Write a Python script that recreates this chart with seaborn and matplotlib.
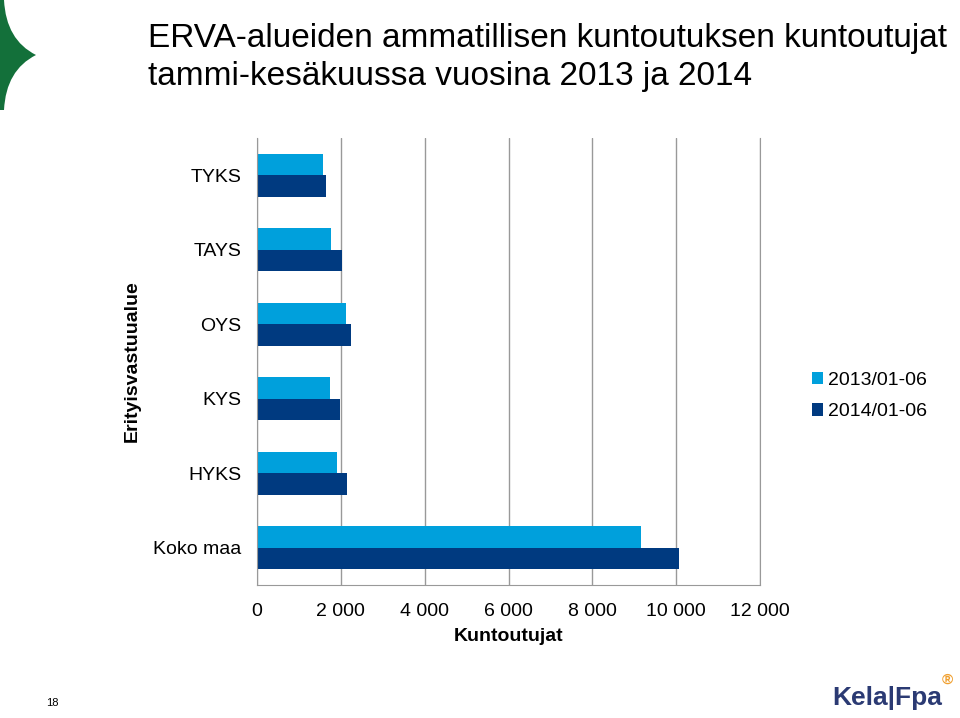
import pandas as pd
import numpy as np
import matplotlib
matplotlib.use("Agg")
import matplotlib.pyplot as plt
from matplotlib.patches import PathPatch, Patch
from matplotlib.path import Path
import seaborn as sns

# DATA
areas = ["TYKS", "TAYS", "OYS", "KYS", "HYKS", "Koko maa"]
periods = ["2013/01-06", "2014/01-06"]
v2013 = [1580, 1775, 2115, 1730, 1910, 9165]
v2014 = [1645, 2020, 2245, 1970, 2155, 10075]
xticks = [0, 2000, 4000, 6000, 8000, 10000, 12000]
xtick_labels = ["0", "2 000", "4 000", "6 000", "8 000", "10 000", "12 000"]

data = pd.DataFrame({
    "alue": areas * 2,
    "jakso": [periods[0]] * len(areas) + [periods[1]] * len(areas),
    "kuntoutujat": v2013 + v2014,
})

sns.set_style("white")
plt.rcParams["font.family"] = ["Liberation Sans", "DejaVu Sans"]
plt.rcParams["text.color"] = "black"
plt.rcParams["axes.labelcolor"] = "black"
plt.rcParams["xtick.color"] = "black"
plt.rcParams["ytick.color"] = "black"

colors = ["#00A0DC", "#003A80"]

fig = plt.figure(figsize=(9.6, 7.18), dpi=100)
ax = fig.add_axes([257 / 960, 1 - 585 / 718, 503 / 960, 447 / 718])

sns.barplot(data=data, y="alue", x="kuntoutujat", hue="jakso", order=areas,
            hue_order=periods, palette=colors, orient="h", width=0.58,
            saturation=1, linewidth=0, ax=ax, legend=False)

ax.set_xlim(0, 12000)
ax.set_ylim(5.5, -0.5)
ax.set_xticks(xticks)
ax.set_xticklabels(xtick_labels, fontsize=14)
ax.tick_params(axis="x", length=5, color="#888888", pad=8)
ax.tick_params(axis="y", which="major", length=0, pad=11, labelsize=14)
ax.set_yticks(np.arange(-0.5, 6, 1), minor=True)
ax.tick_params(axis="y", which="minor", length=6, color="#888888")
ax.grid(axis="x", color="#999999", linewidth=1)
ax.set_axisbelow(True)
ax.spines["top"].set_visible(False)
for s in ["left", "bottom", "right"]:
    ax.spines[s].set_color("#999999")

ax.set_xlabel("Kuntoutujat", fontsize=14, fontweight="bold", labelpad=6)
ax.set_ylabel("Erityisvastuualue", fontsize=14, fontweight="bold")
ax.yaxis.set_label_coords(-116 / 503, 0.5)

# legend
handles = [Patch(facecolor=c, edgecolor="none") for c in colors]
fig.legend(handles, periods, loc="center left", bbox_to_anchor=(794 / 960, 1 - 396 / 718),
           frameon=False, fontsize=14, handlelength=0.6, handleheight=0.6,
           handletextpad=0.25, labelspacing=0.75)

# title
fig.text(148 / 960, 1 - 38 / 718, "ERVA-alueiden ammatillisen kuntoutuksen kuntoutujat",
         fontsize=24, va="center", ha="left")
fig.text(148 / 960, 1 - 76 / 718, "tammi-kesäkuussa vuosina 2013 ja 2014",
         fontsize=24, va="center", ha="left")

# green corner shape
W, H = 960, 718
verts = [(0, H), (4, H), (6, H - 40), (36, H - 55), (6, H - 70), (4, H - 110), (0, H - 110), (0, H)]
codes = [Path.MOVETO, Path.LINETO, Path.CURVE3, Path.CURVE3, Path.CURVE3, Path.CURVE3,
         Path.LINETO, Path.CLOSEPOLY]
verts = [(x / W, y / H) for x, y in verts]
fig.patches.append(PathPatch(Path(verts, codes), facecolor="#13703A", edgecolor="none",
                             transform=fig.transFigure))

# page number and logo
fig.text(52 / 960, 1 - 703 / 718, "18", fontsize=8, ha="center", va="center")
fig.text(887 / 960, 1 - 698 / 718, "Kela|Fpa", fontsize=19, fontweight="bold",
         color="#2B3A73", ha="center", va="center")
fig.text(947 / 960, 1 - 680 / 718, "®", fontsize=11, fontweight="bold",
         color="#F0A030", ha="center", va="center")

plt.savefig("out.png", dpi=100)
